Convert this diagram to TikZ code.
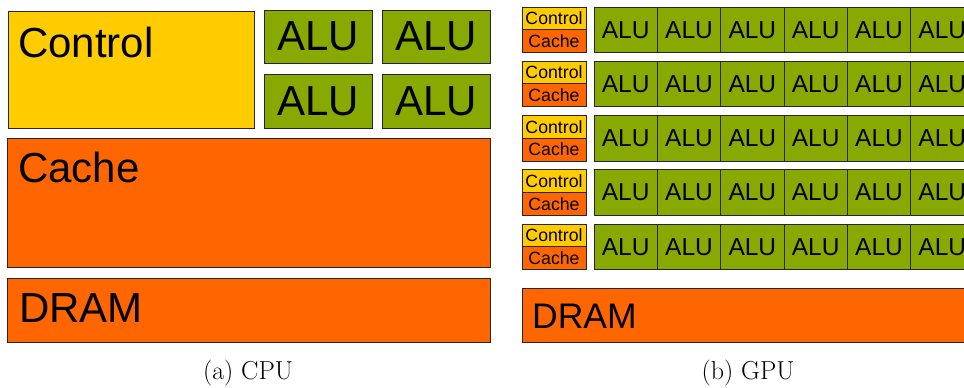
\documentclass[tikz,border=0pt]{standalone}
\usepackage{fontspec}
\newfontfamily\arialf{Liberation Sans}
\definecolor{ctrlc}{RGB}{255,204,0}
\definecolor{aluc}{RGB}{136,170,0}
\definecolor{cachec}{RGB}{255,102,0}
\begin{document}
\begin{tikzpicture}[x=1pt,y=-1pt,
  blk/.style={draw=black!85, line width=0.9pt, inner sep=0pt, outer sep=0pt, anchor=north west},
  bigtxt/.style={font=\arialf\fontsize{42}{42}\selectfont},
  midtxt/.style={font=\arialf\fontsize{24.5}{24.5}\selectfont},
  smltxt/.style={font=\arialf\fontsize{17.7}{17.7}\selectfont},
  drtxt/.style={font=\arialf\fontsize{35.5}{35.5}\selectfont},
  lbl/.style={inner sep=0pt, anchor=base west},
  captxt/.style={font=\fontsize{26}{26}\selectfont, inner sep=0pt, anchor=base}]
\useasboundingbox (0,0) rectangle (964,388);
\clip (0,0) rectangle (964,388);
% CPU
\node[blk, fill=ctrlc, minimum width=246pt, minimum height=117pt] (cctrl) at (8,11) {};
\node[lbl, bigtxt] (tcctrl) at (18,57) {Control};
\node[blk, fill=aluc, minimum width=108pt, minimum height=53pt, bigtxt] (ca1) at (264,10) {ALU};
\node[blk, fill=aluc, minimum width=108pt, minimum height=53pt, bigtxt] (ca2) at (382,10) {ALU};
\node[blk, fill=aluc, minimum width=108pt, minimum height=54pt, bigtxt] (ca3) at (264,74) {ALU};
\node[blk, fill=aluc, minimum width=108pt, minimum height=54pt, bigtxt] (ca4) at (382,74) {ALU};
\node[blk, fill=cachec, minimum width=483pt, minimum height=129pt] (ccache) at (7,138) {};
\node[lbl, bigtxt] (tccache) at (18,182) {Cache};
\node[blk, fill=cachec, minimum width=483pt, minimum height=64pt] (cdram) at (7,278) {};
\node[lbl, bigtxt] (tcdram) at (19,322) {DRAM};
\node[captxt] (capa) at (248,379) {(a) CPU};
% GPU
\foreach \i in {0,...,4}{
  \pgfmathsetmacro{\top}{7+54.25*\i}
  \node[blk, fill=ctrlc, minimum width=64pt, minimum height=22.5pt, smltxt] (gc-\i) at (522,\top) {Control};
  \node[blk, fill=cachec, minimum width=64pt, minimum height=23pt, smltxt] (gk-\i) at (522,\top+22.5) {Cache};
  \foreach \j in {0,...,5}{
    \node[blk, fill=aluc, minimum width=63.33pt, minimum height=45.5pt, midtxt] (ga-\i-\j) at (594+63.33*\j,\top) {ALU};
  }
}
\node[blk, fill=cachec, minimum width=500pt, minimum height=54pt] (gdram) at (522,288) {};
\node[lbl, drtxt] (tgdram) at (532,328) {DRAM};
\node[captxt] (capb) at (748,379) {(b) GPU};
\end{tikzpicture}
\end{document}
